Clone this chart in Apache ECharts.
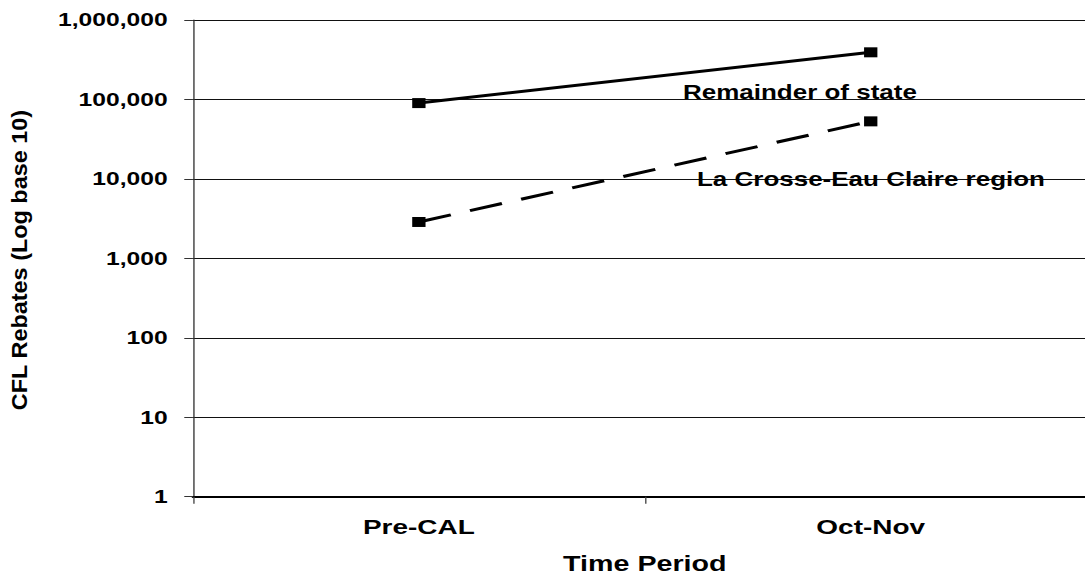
<!DOCTYPE html>
<html><head><meta charset="utf-8">
<script src="https://cdn.jsdelivr.net/npm/echarts@6/dist/echarts.min.js"></script>
<style>
html,body{margin:0;padding:0;background:#fff}
#wrap{width:1085px;height:578px;overflow:hidden;position:relative}
#c{width:814px;height:578px;transform:scaleX(1.33292);transform-origin:0 0}
</style>
</head><body><div id="wrap"><div id="c"></div></div>
<script>
const categories = ["Pre-CAL", "Oct-Nov"];
const remainderOfState = [90000, 392000];
const laCrosseEauClaire = [2870, 53000];
const seriesNames = ["Remainder of state", "La Crosse-Eau Claire region"];
const yTicks = [1, 10, 100, 1000, 10000, 100000, 1000000];
const xTitle = "Time Period";
const yTitle = "CFL Rebates (Log base 10)";

const font = '"Liberation Sans", Arial, sans-serif';
const chart = echarts.init(document.getElementById('c'), null, {renderer: 'svg'});
chart.setOption({
  animation: false,
  backgroundColor: '#fff',
  grid: {left: 144.75, top: 20, bottom: 81.3, right: -8.75, containLabel: false, outerBoundsMode: 'none'},
  xAxis: {
    type: 'category', data: categories, boundaryGap: true,
    name: xTitle, nameLocation: 'middle', nameGap: 56,
    nameTextStyle: {fontFamily: font, fontWeight: 'bold', fontSize: 21.5, color: '#000'},
    axisLine: {lineStyle: {color: '#000', width: 2}},
    axisTick: {show: true, length: 7, lineStyle: {color: '#444', width: 1}},
    axisLabel: {fontFamily: font, fontWeight: 'bold', fontSize: 21, color: '#000', margin: 20},
    splitLine: {show: false}
  },
  yAxis: {
    type: 'log', logBase: 10, min: yTicks[0], max: yTicks[yTicks.length - 1],
    axisLine: {show: true, lineStyle: {color: '#333', width: 1}},
    axisTick: {show: true, inside: false, length: 6.5, lineStyle: {color: '#333'}},
    axisLabel: {fontFamily: font, fontWeight: 'bold', fontSize: 18.5, color: '#000', margin: 19,
      formatter: v => Math.round(v).toLocaleString('en-US')},
    splitLine: {show: true, lineStyle: {color: '#111', width: 1}},
    minorTick: {show: false}
  },
  series: [
    {name: seriesNames[0], type: 'line', data: remainderOfState, symbol: 'rect', symbolSize: 10,
     itemStyle: {color: '#000'}, lineStyle: {color: '#000', width: 3, type: 'solid'}},
    {name: seriesNames[1], type: 'line', data: laCrosseEauClaire, symbol: 'rect', symbolSize: 10,
     itemStyle: {color: '#000'}, lineStyle: {color: '#000', width: 3, type: [25, 15]}}
  ],
  graphic: [
    {type: 'text', x: 512.4, y: 92.6, z: 10,
     style: {text: seriesNames[0], fontFamily: font, fontWeight: 'bold', fontSize: 19.5, fill: '#000', verticalAlign: 'middle'}},
    {type: 'text', x: 522.9, y: 179, z: 10,
     style: {text: seriesNames[1], fontFamily: font, fontWeight: 'bold', fontSize: 19.5, fill: '#000', verticalAlign: 'middle'}},
    {type: 'text', x: 14.8, y: 260, rotation: Math.PI / 2, scaleX: 1.42, z: 10,
     style: {text: yTitle, fontFamily: font, fontWeight: 'bold', fontSize: 16.5, fill: '#000', align: 'center', verticalAlign: 'middle'}}
  ]
});
</script></body></html>
